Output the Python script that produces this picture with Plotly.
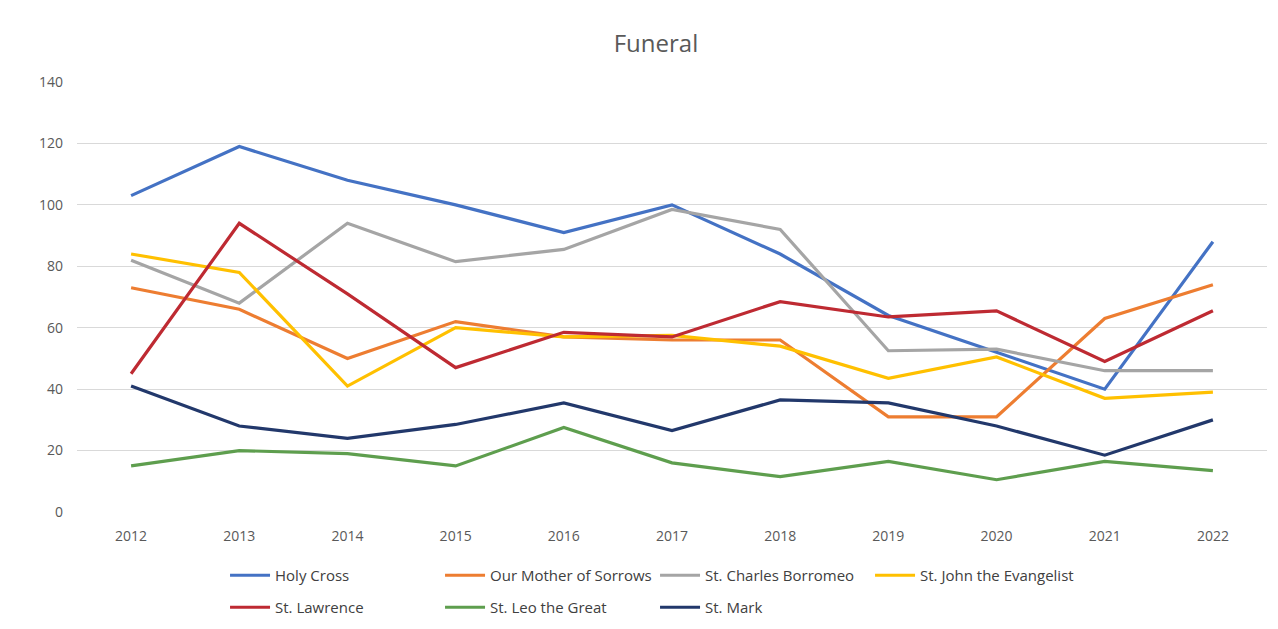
import plotly.graph_objects as go

years = ["2012", "2013", "2014", "2015", "2016", "2017", "2018", "2019", "2020", "2021", "2022"]

holy_cross = [103, 119, 108, 100, 91, 100, 84, 64, 52, 40, 88]
our_mother = [73, 66, 50, 62, 57, 56, 56, 31, 31, 63, 74]
st_charles = [82, 68, 94, 81.5, 85.5, 98.5, 92, 52.5, 53, 46, 46]
st_john = [84, 78, 41, 60, 57, 57.5, 54, 43.5, 50.5, 37, 39]
st_lawrence = [45, 94, 71, 47, 58.5, 57, 68.5, 63.5, 65.5, 49, 65.5]
st_leo = [15, 20, 19, 15, 27.5, 16, 11.5, 16.5, 10.5, 16.5, 13.5]
st_mark = [41, 28, 24, 28.5, 35.5, 26.5, 36.5, 35.5, 28, 18.5, 30]

series = [
    ("Holy Cross", holy_cross, "#4472C4", "legend"),
    ("Our Mother of Sorrows", our_mother, "#ED7D31", "legend"),
    ("St. Charles Borromeo", st_charles, "#A5A5A5", "legend"),
    ("St. John the Evangelist", st_john, "#FFC000", "legend"),
    ("St. Lawrence", st_lawrence, "#BE2A32", "legend2"),
    ("St. Leo the Great", st_leo, "#5E9E4E", "legend2"),
    ("St. Mark", st_mark, "#22386B", "legend2"),
]

fig = go.Figure()
for name, vals, color, lg in series:
    fig.add_trace(go.Scatter(
        x=years, y=vals, name=name, mode="lines",
        line=dict(color=color, width=3.2), legend=lg,
    ))

font_family = "'Open Sans', 'Liberation Sans', sans-serif"
legend_common = dict(orientation="h", xanchor="left", yanchor="top", yref="container",
                     entrywidth=160, entrywidthmode="pixels", traceorder="normal",
                     font=dict(size=15, color="#404040", family=font_family),
                     itemwidth=40, tracegroupgap=0, bgcolor="rgba(0,0,0,0)")

fig.update_layout(
    width=1278, height=629,
    paper_bgcolor="white", plot_bgcolor="white",
    margin=dict(l=69, r=19, t=74, b=125, autoexpand=False),
    font=dict(family=font_family, color="#595959", size=14),
    title=dict(text="Funeral", x=0.507, xanchor="center", y=1 - 36 / 629, yanchor="middle",
               yref="container", font=dict(size=24, color="#595959", family=font_family)),
    xaxis=dict(type="category", range=[-0.5, 10.5], showgrid=False, zeroline=False,
               showline=False, ticks="", ticklabelstandoff=14,
               tickfont=dict(size=14, color="#595959")),
    yaxis=dict(range=[0, 140], dtick=20, showgrid=True, gridcolor="#D9D9D9", gridwidth=1,
               zeroline=False, showline=False, ticks="", ticklabelstandoff=13,
               tickfont=dict(size=14, color="#595959")),
    showlegend=True,
    legend=dict(x=0.1244, y=1 - 551 / 629, **legend_common),
    legend2=dict(x=0.1244, y=1 - 583 / 629, **legend_common),
)

fig.write_html("out.html")
